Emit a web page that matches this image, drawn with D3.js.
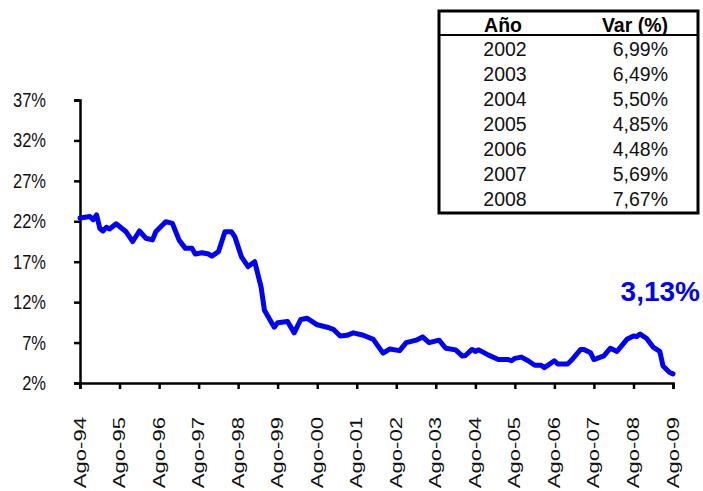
<!DOCTYPE html>
<html>
<head>
<meta charset="utf-8">
<script src="https://cdn.jsdelivr.net/npm/d3@7"></script>
<style>
  body { margin: 0; background: #fff; }
  text { font-family: Arial, "Liberation Sans", sans-serif; }
</style>
</head>
<body>
<script>
// Width and height of chart
var width = 703;
var height = 491;

// monthly series, Aug-94 .. Aug-09
var months = ["1994-08","1994-11","1994-12","1995-01","1995-02","1995-03","1995-04","1995-05","1995-07","1995-10",
              "1995-12","1996-02","1996-04","1996-06","1996-07","1996-10","1996-12","1997-02","1997-04","1997-06",
              "1997-07","1997-09","1997-11","1997-12","1998-02","1998-04","1998-06","1998-07","1998-09","1998-11",
              "1999-01","1999-03","1999-04","1999-07","1999-08","1999-11","2000-01","2000-03","2000-05","2000-08",
              "2000-11","2001-01","2001-03","2001-05","2001-07","2001-10","2002-01","2002-04","2002-06","2002-09",
              "2002-11","2003-02","2003-04","2003-06","2003-09","2003-11","2004-02","2004-04","2004-05","2004-07",
              "2004-08","2004-09","2004-12","2005-03","2005-06","2005-07","2005-08","2005-10","2005-12","2006-02",
              "2006-04","2006-05","2006-08","2006-09","2006-12","2007-01","2007-04","2007-05","2007-07","2007-08",
              "2007-11","2008-01","2008-03","2008-06","2008-08","2008-09","2008-10","2008-12","2009-02","2009-04",
              "2009-05","2009-07","2009-08"];
var rates = [22.4,22.6,22.2,22.8,21.1,20.8,21.25,21.05,21.7,20.7,
             19.5,20.8,19.9,19.7,20.7,21.95,21.75,19.7,18.65,18.65,
             17.95,18.1,17.95,17.7,18.25,20.7,20.7,20.1,17.6,16.4,
             17.0,13.9,11.0,8.9,9.45,9.6,8.2,9.85,10.0,9.2,
             8.9,8.6,7.8,7.9,8.2,7.9,7.4,5.7,6.2,6.0,
             7.0,7.3,7.7,7.0,7.3,6.3,6.1,5.35,5.4,6.15,
             5.9,6.1,5.45,4.9,4.9,4.75,5.05,5.2,4.75,4.2,
             4.2,3.9,4.75,4.35,4.35,4.75,6.15,6.15,5.75,4.9,
             5.35,6.3,5.9,7.4,7.8,7.75,8.05,7.5,6.4,5.9,
             4.1,3.3,3.13];

// axis ticks
var yTicks = [2, 7, 12, 17, 22, 27, 32, 37];
var xTickYears = d3.range(1994, 2010);

// table of yearly values
var tableYears = ["2002","2003","2004","2005","2006","2007","2008"];
var tableVars = ["6,99%","6,49%","5,50%","4,85%","4,48%","5,69%","7,67%"];
var lastLabel = "3,13%";

var parseMonth = d3.timeParse("%Y-%m");
var data = months.map(function(m, i) { return { date: parseMonth(m), value: rates[i] }; });

// scales
var x = d3.scaleTime()
          .domain([parseMonth("1994-08"), parseMonth("2009-08")])
          .range([80, 673]);
var y = d3.scaleLinear()
          .domain([2, 37])
          .range([383, 100]);

var svg = d3.select("body")
            .append("svg")
            .attr("width", width)
            .attr("height", height);

// y axis
var yAxis = d3.axisLeft(y)
              .tickValues(yTicks)
              .tickSize(6)
              .tickFormat("");
svg.append("g")
   .attr("transform", "translate(80,0)")
   .call(yAxis)
   .call(function(g) {
       g.select(".domain").attr("stroke", "#000").attr("stroke-width", 2.5);
       g.selectAll(".tick line").attr("stroke", "#000").attr("stroke-width", 2.5);
   });

// y labels (slightly stretched like the original)
svg.selectAll(".ylab")
   .data(yTicks)
   .enter()
   .append("text")
   .attr("class", "ylab")
   .attr("transform", function(d) { return "translate(46," + y(d) + ") scale(1,1.19)"; })
   .attr("dy", "0.36em")
   .attr("text-anchor", "end")
   .style("font-size", "16.5px")
   .style("fill", "#111")
   .text(function(d) { return d + "%"; });

// x axis
var xTicks = xTickYears.map(function(yr) { return parseMonth(yr + "-08"); });
var xAxis = d3.axisBottom(x)
              .tickValues(xTicks)
              .tickSize(6)
              .tickFormat("");
svg.append("g")
   .attr("transform", "translate(0,383)")
   .call(xAxis)
   .call(function(g) {
       g.select(".domain").attr("stroke", "#000").attr("stroke-width", 2.5);
       g.selectAll(".tick line").attr("stroke", "#000").attr("stroke-width", 2.5);
   });

// rotated x labels
svg.selectAll(".xlab")
   .data(xTicks)
   .enter()
   .append("text")
   .attr("class", "xlab")
   .attr("transform", function(d) { return "translate(" + x(d) + ",417) rotate(-90) scale(1.38,1)"; })
   .attr("dy", "0.35em")
   .attr("text-anchor", "end")
   .style("font-size", "16px")
   .style("fill", "#111")
   .text(function(d) { return "Ago-" + d3.timeFormat("%y")(d); });

// the line
var line = d3.line()
             .x(function(d) { return x(d.date); })
             .y(function(d) { return y(d.value); });
svg.append("path")
   .datum(data)
   .attr("d", line)
   .attr("fill", "none")
   .attr("stroke", "#0000ff")
   .attr("stroke-width", 5)
   .attr("stroke-linejoin", "round")
   .attr("stroke-linecap", "round");

// last value label
svg.append("text")
   .attr("x", 700)
   .attr("y", 301)
   .attr("text-anchor", "end")
   .style("font-size", "28px")
   .style("font-weight", "bold")
   .style("fill", "#0000ff")
   .text(lastLabel);

// table in the top right
var tbl = svg.append("g");
tbl.append("rect")
   .attr("x", 439).attr("y", 11)
   .attr("width", 259).attr("height", 202)
   .attr("fill", "#fff")
   .attr("stroke", "#000")
   .attr("stroke-width", 3);
tbl.append("line")
   .attr("x1", 439).attr("x2", 698)
   .attr("y1", 35).attr("y2", 35)
   .attr("stroke", "#000")
   .attr("stroke-width", 2);
tbl.append("text")
   .attr("x", 503).attr("y", 31.5)
   .attr("text-anchor", "middle")
   .style("font-size", "19.5px").style("font-weight", "bold")
   .text("Año");
tbl.append("text")
   .attr("x", 668).attr("y", 31.5)
   .attr("text-anchor", "end")
   .style("font-size", "19.5px").style("font-weight", "bold")
   .text("Var (%)");

var rowY = d3.scaleLinear().domain([0, 6]).range([55.5, 205.5]);
tbl.selectAll(".yr")
   .data(tableYears)
   .enter()
   .append("text")
   .attr("class", "yr")
   .attr("x", 505)
   .attr("y", function(d, i) { return rowY(i); })
   .attr("text-anchor", "middle")
   .style("font-size", "19.5px")
   .style("fill", "#111")
   .text(function(d) { return d; });
tbl.selectAll(".vr")
   .data(tableVars)
   .enter()
   .append("text")
   .attr("class", "vr")
   .attr("x", 668)
   .attr("y", function(d, i) { return rowY(i); })
   .attr("text-anchor", "end")
   .style("font-size", "19.5px")
   .style("fill", "#111")
   .text(function(d) { return d; });
</script>
</body>
</html>
